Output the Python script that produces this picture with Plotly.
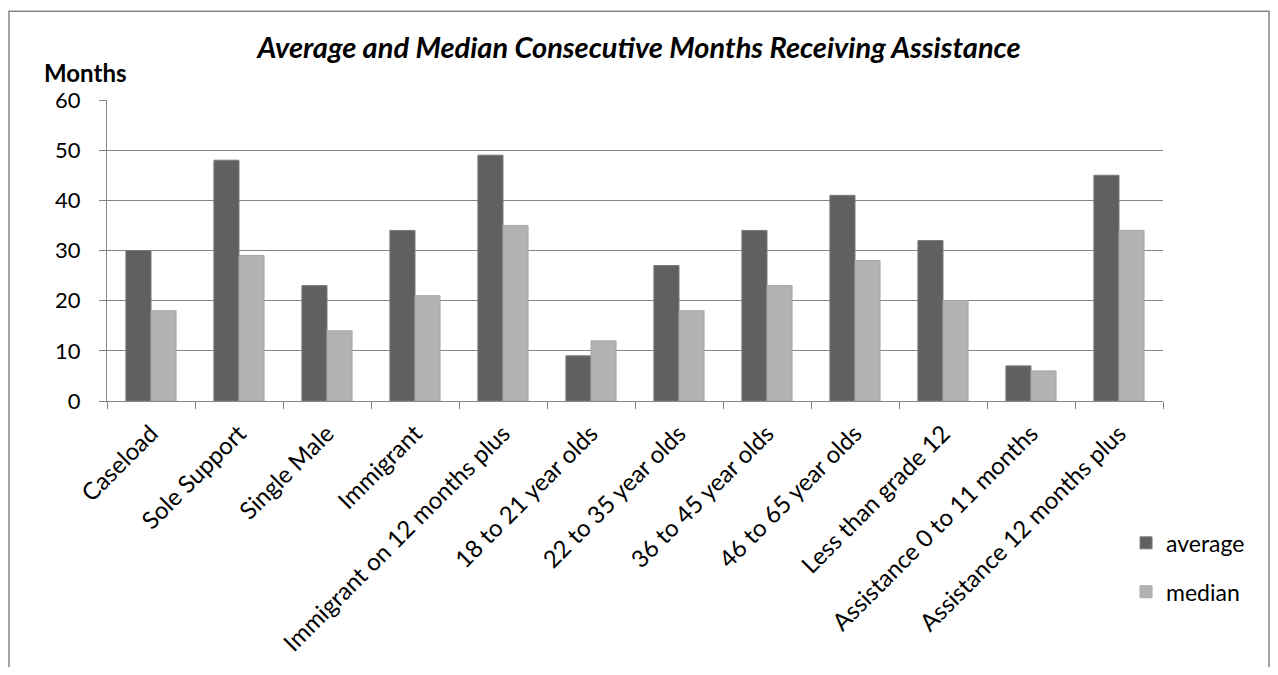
import plotly.graph_objects as go

categories = [
    "Caseload",
    "Sole Support",
    "Single Male",
    "Immigrant",
    "Immigrant on 12 months plus",
    "18 to 21 year olds",
    "22 to 35 year olds",
    "36 to 45 year olds",
    "46 to 65 year olds",
    "Less than grade 12",
    "Assistance 0 to 11 months",
    "Assistance 12 months plus",
]
average = [30, 48, 23, 34, 49, 9, 27, 34, 41, 32, 7, 45]
median = [18, 29, 14, 21, 35, 12, 18, 23, 28, 20, 6, 34]
y_ticks = [0, 10, 20, 30, 40, 50, 60]

font = "Lato, 'Open Sans', sans-serif"
grid = "#868686"

fig = go.Figure()
fig.add_trace(go.Bar(x=categories, y=average, name="average", legendgroup="avg",
                     marker=dict(color="#606060", line=dict(color="#7a7a7a", width=1))))
fig.add_trace(go.Bar(x=categories, y=median, name="median", legendgroup="med",
                     marker=dict(color="#b2b2b2", line=dict(color="#a8a8a8", width=1))))

# page body has an 8px margin, so the figure is sized to fit inside the window
fig.update_layout(
    width=1262,
    height=659,
    margin=dict(l=99, r=107, t=92, b=266, autoexpand=False),
    paper_bgcolor="white",
    plot_bgcolor="white",
    barmode="group",
    bargap=0.43,
    bargroupgap=0,
    font=dict(family=font, size=22, color="black"),
    title=dict(
        text="<b><i>Average and Median Consecutive Months Receiving Assistance</i></b>",
        x=0.5, xanchor="center", y=0.939, yanchor="middle",
        font=dict(size=29),
    ),
    legend=dict(
        x=0.965, xanchor="left", y=-0.40, yanchor="top",
        font=dict(size=23), itemwidth=30, tracegroupgap=16,
        bgcolor="rgba(0,0,0,0)",
    ),
    showlegend=True,
)
fig.update_xaxes(
    tickangle=-45,
    showline=True, linecolor=grid, linewidth=1,
    ticks="outside", tickson="boundaries", ticklen=7, tickcolor=grid,
    ticklabelstandoff=8,
    showgrid=False,
    tickfont=dict(size=24),
)
fig.update_yaxes(
    range=[0, 60], tickvals=y_ticks,
    showline=True, linecolor=grid, linewidth=1,
    ticks="outside", ticklen=7, tickcolor=grid,
    ticklabelstandoff=14,
    showgrid=True, gridcolor=grid, gridwidth=1,
    zeroline=False,
    tickfont=dict(size=22),
)
fig.add_annotation(
    text="<b>Months</b>", xref="paper", yref="paper",
    x=-0.0208, y=1.09, xanchor="center", yanchor="middle",
    showarrow=False, font=dict(size=24),
)
# outer chart border
fig.add_shape(type="rect", xref="paper", yref="paper",
              x0=-0.0928, x1=1.1004, y0=-1.2, y1=1.295,
              line=dict(color="#868686", width=1.5), layer="below")

fig.write_html("out.html")
